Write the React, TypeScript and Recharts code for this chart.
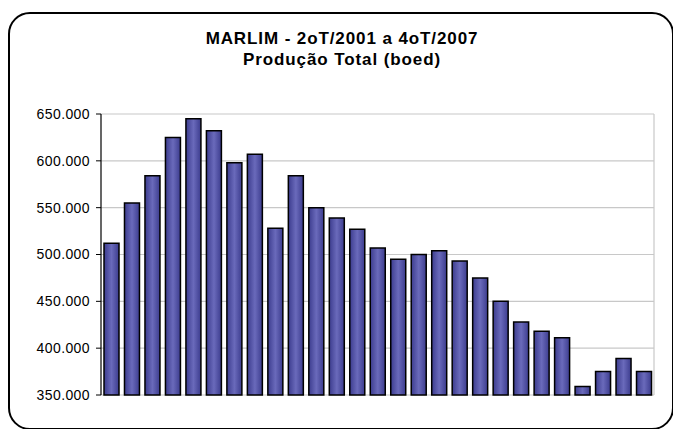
import { BarChart, Bar, XAxis, YAxis, CartesianGrid } from 'recharts';

const quarters = [
  '2T/2001', '3T/2001', '4T/2001',
  '1T/2002', '2T/2002', '3T/2002', '4T/2002',
  '1T/2003', '2T/2003', '3T/2003', '4T/2003',
  '1T/2004', '2T/2004', '3T/2004', '4T/2004',
  '1T/2005', '2T/2005', '3T/2005', '4T/2005',
  '1T/2006', '2T/2006', '3T/2006', '4T/2006',
  '1T/2007', '2T/2007', '3T/2007', '4T/2007',
];

const production = [
  512000, 555000, 584000,
  625000, 645000, 632000, 598000,
  607000, 528000, 584000, 550000,
  539000, 527000, 507000, 495000,
  500000, 504000, 493000, 475000,
  450000, 428000, 418000, 411000,
  359000, 375000, 389000, 375000,
];

const yTicks = [350000, 400000, 450000, 500000, 550000, 600000, 650000];

const titleLines = ['MARLIM - 2oT/2001 a 4oT/2007', 'Produção Total (boed)'];

// pt-BR style thousands separator
const fmt = (v: number) => String(v).replace(/\B(?=(\d{3})+(?!\d))/g, '.');

const data = quarters.map((q, i) => ({ quarter: q, boed: production[i] }));

export default function App() {
  return (
    <div
      style={{
        position: 'absolute',
        left: 0,
        top: 0,
        width: 673,
        height: 429,
        background: '#fff',
        overflow: 'hidden',
        fontFamily: '"Liberation Sans", Arial, sans-serif',
      }}
    >
      <div
        style={{
          position: 'absolute',
          left: 8,
          top: 12,
          width: 662,
          height: 414,
          border: '2px solid #000',
          borderRadius: 22,
        }}
      />
      <div
        style={{
          position: 'absolute',
          left: 0,
          top: 28,
          width: 684,
          textAlign: 'center',
          fontWeight: 'bold',
          fontSize: 17,
          letterSpacing: 0.9,
          lineHeight: '21px',
          color: '#000',
        }}
      >
        {titleLines.map((t) => (
          <div key={t}>{t}</div>
        ))}
      </div>
      <div style={{ position: 'absolute', left: 0, top: 0 }}>
        <BarChart
          width={673}
          height={429}
          data={data}
          margin={{ top: 114, right: 19, bottom: 34, left: 0 }}
          barSize={15}
        >
          <defs>
            <linearGradient id="barFill" x1="0" y1="0" x2="1" y2="0">
              <stop offset="0%" stopColor="#3c3c8e" />
              <stop offset="50%" stopColor="#6a6abb" />
              <stop offset="100%" stopColor="#3c3c8e" />
            </linearGradient>
          </defs>
          <CartesianGrid
            stroke="#c8c8c8"
            strokeWidth={1.2}
            verticalCoordinatesGenerator={({ offset }: any) => [offset.left + offset.width]}
          />
          <XAxis
            dataKey="quarter"
            tick={false}
            tickLine={false}
            height={0}
            axisLine={{ stroke: '#000', strokeWidth: 1.5 }}
          />
          <YAxis
            width={101}
            domain={[350000, 650000]}
            ticks={yTicks}
            tickFormatter={fmt}
            tickSize={5}
            tickMargin={6}
            interval={0}
            axisLine={{ stroke: '#000', strokeWidth: 1.2 }}
            tickLine={{ stroke: '#000' }}
            tick={{ fill: '#000', fontSize: 14, letterSpacing: 0.4, fontFamily: '"Liberation Sans", Arial, sans-serif' }}
          />
          <Bar
            dataKey="boed"
            fill="url(#barFill)"
            stroke="#000"
            strokeWidth={1.5}
            isAnimationActive={false}
          />
        </BarChart>
      </div>
    </div>
  );
}
